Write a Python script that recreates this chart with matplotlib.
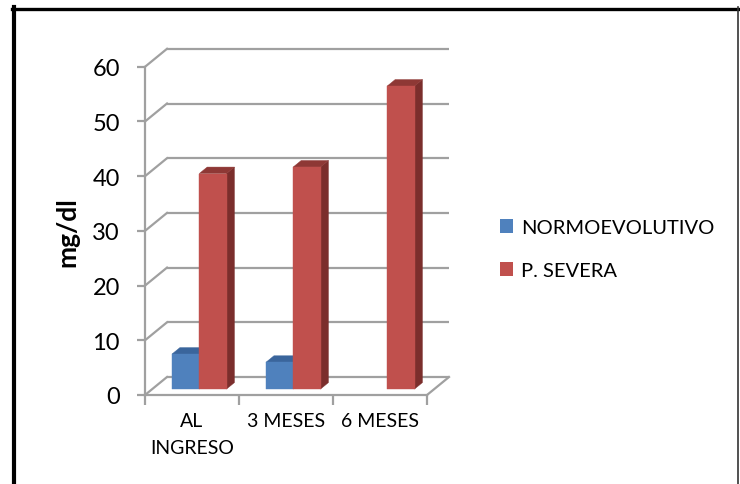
import numpy as np
import matplotlib.pyplot as plt
from matplotlib.patches import Polygon, Patch
from matplotlib.lines import Line2D

plt.rcParams['font.family'] = ['Lato', 'DejaVu Sans']

categories = ['AL\nINGRESO', '3 MESES', '6 MESES']
normo = [6.4, 4.9, 0.0]
severa = [39.4, 40.6, 55.4]
series_names = ['NORMOEVOLUTIVO', 'P. SEVERA']
y_ticks = [0, 10, 20, 30, 40, 50, 60]

# face colours: front, top, side
BLUE = ('#4F81BD', '#3A659C', '#335A8C')
RED = ('#C0504D', '#8E3835', '#7B2E2C')
GRID = '#A0A0A0'

# oblique "3d" depth of the wall/floor (x in category units, y in value units)
DX, DY = 0.234, 3.29
F1, F2 = 0.33, 0.69          # bar front / back depth fractions
W = 0.29                     # bar width

fig = plt.figure(figsize=(7.4, 4.85), dpi=100)
ax = fig.add_axes([145 / 740, (485 - 396) / 485, 304 / 740, 346.2 / 485])
ax.set_xlim(0, len(categories) + DX)
ax.set_ylim(0, y_ticks[-1] + DY)
ax.set_facecolor('none')

# back wall gridlines and the diagonals on the side wall
for v in y_ticks:
    ax.plot([DX, len(categories) + DX], [v + DY, v + DY], color=GRID, lw=1.6,
            zorder=1, clip_on=False, solid_capstyle='butt')
    ax.plot([0, DX], [v, v + DY], color=GRID, lw=1.6, zorder=1, clip_on=False)
# right edge of the floor
ax.plot([len(categories), len(categories) + DX], [0, DY], color=GRID, lw=1.6,
        zorder=1, clip_on=False)

# front axes
for s in ['top', 'right']:
    ax.spines[s].set_visible(False)
for s in ['left', 'bottom']:
    ax.spines[s].set_color(GRID)
    ax.spines[s].set_linewidth(1.6)
ax.spines['left'].set_bounds(0, y_ticks[-1])
ax.spines['bottom'].set_bounds(0, len(categories))
ax.set_yticks(y_ticks)
ax.set_yticklabels([str(t) for t in y_ticks])
ax.tick_params(axis='y', length=6, width=1.6, color=GRID, pad=12, labelsize=17)
ax.set_xticks(np.arange(len(categories) + 1))
ax.set_xticklabels([])
ax.set_xticks(np.arange(len(categories)) + 0.5, minor=True)
ax.set_xticklabels(categories, minor=True, fontsize=14)
for lbl in ax.get_xticklabels(minor=True):
    lbl.set_linespacing(1.75)
ax.tick_params(axis='x', which='major', length=7, width=1.6, color=GRID)
ax.tick_params(axis='x', which='minor', length=0, pad=12)


def draw_series(values, x_off, colors, z):
    x = np.arange(len(values)) + x_off
    vals = np.array(values)
    keep = vals > 0
    ox1, oy1 = F1 * DX, F1 * DY
    ox2, oy2 = F2 * DX, F2 * DY
    for xl, v in zip(x[keep], vals[keep]):
        xr = xl + W
        top = [(xl + ox1, v + oy1), (xr + ox1, v + oy1),
               (xr + ox2, v + oy2), (xl + ox2, v + oy2)]
        side = [(xr + ox1, oy1), (xr + ox2, oy2),
                (xr + ox2, v + oy2), (xr + ox1, v + oy1)]
        ax.add_patch(Polygon(side, closed=True, fc=colors[2], ec=colors[2],
                             lw=0.3, zorder=z))
        ax.add_patch(Polygon(top, closed=True, fc=colors[1], ec=colors[1],
                             lw=0.3, zorder=z))
    ax.bar(x[keep] + ox1, vals[keep], width=W, bottom=oy1, align='edge',
           color=colors[0], edgecolor=colors[0], linewidth=0.3, zorder=z)


draw_series(normo, 0.21, BLUE, 3)
draw_series(severa, 0.21 + W, RED, 4)

fig.text(67 / 740, 1 - 232 / 485, 'mg/dl', rotation=90, ha='center',
         va='center', fontsize=19, fontweight='bold')

handles = [Patch(fc=BLUE[0], ec='none'), Patch(fc=RED[0], ec='none')]
fig.legend(handles, series_names, loc='center left',
           bbox_to_anchor=(500 / 740, 1 - 250 / 485), frameon=False,
           fontsize=14.5, handlelength=0.65, handleheight=0.65,
           handletextpad=0.4, labelspacing=1.3, borderpad=0,
           borderaxespad=0)

# outer frame
fig.add_artist(Line2D([14 / 740, 14 / 740], [0, 1 - 8 / 485],
                      transform=fig.transFigure, color='black', lw=3))
fig.add_artist(Line2D([12 / 740, 738 / 740], [1 - 9.5 / 485, 1 - 9.5 / 485],
                      transform=fig.transFigure, color='black', lw=2.4))
fig.add_artist(Line2D([737.5 / 740, 737.5 / 740], [0, 1 - 8 / 485],
                      transform=fig.transFigure, color='#333333', lw=1.2))

fig.savefig('out.png', dpi=100)
